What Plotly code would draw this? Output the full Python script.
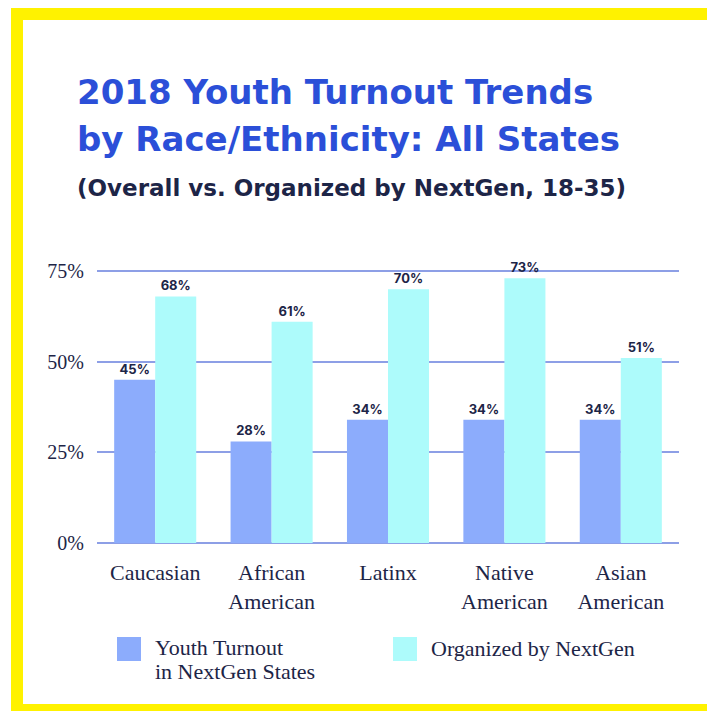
import plotly.graph_objects as go

categories = ["Caucasian", "African<br>American", "Latinx", "Native<br>American", "Asian<br>American"]
youth_turnout = [45, 28, 34, 34, 34]
organized = [68, 61, 70, 73, 51]
ytick_vals = [0, 25, 50, 75]
ytick_text = ["0%", "25%", "50%", "75%"]
series_names = ["Youth Turnout in NextGen States", "Organized by NextGen"]

W, H = 707, 711
L, R, T, B = 97, 28, 270, 168
PW, PH = W - L - R, H - T - B


def px(x):
    return (x - L) / PW


def py(y):
    return (H - B - y) / PH


BLUE = "#8cacfc"
CYAN = "#adfbfb"
NAVY = "#1d2547"
TITLE_BLUE = "#2b4fd8"
GRID = "#8d9fe6"
YELLOW = "#fff200"
SERIF = "Liberation Serif"
SANS = "Inter"
HEAD = "DejaVu Sans"

fig = go.Figure()
for name, vals, col in [(series_names[0], youth_turnout, BLUE), (series_names[1], organized, CYAN)]:
    fig.add_trace(go.Bar(
        x=categories, y=vals, name=name, marker=dict(color=col, line=dict(width=0)),
        texttemplate="%{y}%", textposition="outside", cliponaxis=False,
        constraintext="none",
        textfont=dict(family=SANS, size=13, color=NAVY, weight="bold"),
        showlegend=False, hoverinfo="skip",
    ))

shapes = [
    dict(type="rect", xref="paper", yref="paper", x0=px(11), x1=px(W + 5), y0=py(8), y1=py(20),
         fillcolor=YELLOW, line=dict(width=0), layer="below"),
    dict(type="rect", xref="paper", yref="paper", x0=px(11), x1=px(23), y0=py(8), y1=py(H + 5),
         fillcolor=YELLOW, line=dict(width=0), layer="below"),
    dict(type="rect", xref="paper", yref="paper", x0=px(11), x1=px(W + 5), y0=py(704), y1=py(H + 5),
         fillcolor=YELLOW, line=dict(width=0), layer="below"),
    # legend swatches
    dict(type="rect", xref="paper", yref="paper", x0=px(117), x1=px(141), y0=py(637), y1=py(661),
         fillcolor=BLUE, line=dict(width=0)),
    dict(type="rect", xref="paper", yref="paper", x0=px(393), x1=px(417), y0=py(637), y1=py(661),
         fillcolor=CYAN, line=dict(width=0)),
]

annotations = [
    dict(text="<b>2018 Youth Turnout Trends</b>", x=px(75), y=py(92), xref="paper", yref="paper",
         xanchor="left", yanchor="middle", showarrow=False,
         font=dict(family=HEAD, size=34, color=TITLE_BLUE)),
    dict(text="<b>by Race/Ethnicity: All States</b>", x=px(75), y=py(139), xref="paper", yref="paper",
         xanchor="left", yanchor="middle", showarrow=False,
         font=dict(family=HEAD, size=34, color=TITLE_BLUE)),
    dict(text="<b>(Overall vs. Organized by NextGen, 18-35)</b>", x=px(75), y=py(188), xref="paper", yref="paper",
         xanchor="left", yanchor="middle", showarrow=False,
         font=dict(family=HEAD, size=23, color=NAVY)),
    dict(text="Youth Turnout", x=px(153), y=py(647), xref="paper", yref="paper",
         xanchor="left", yanchor="middle", showarrow=False,
         font=dict(family=SERIF, size=22, color=NAVY)),
    dict(text="in NextGen States", x=px(153), y=py(671), xref="paper", yref="paper",
         xanchor="left", yanchor="middle", showarrow=False,
         font=dict(family=SERIF, size=22, color=NAVY)),
    dict(text="Organized by NextGen", x=px(429), y=py(648), xref="paper", yref="paper",
         xanchor="left", yanchor="middle", showarrow=False,
         font=dict(family=SERIF, size=22, color=NAVY)),
]

fig.update_layout(
    width=W, height=H,
    margin=dict(l=L, r=R, t=T, b=B),
    paper_bgcolor="white", plot_bgcolor="white",
    barmode="group", bargap=0.295, bargroupgap=0,
    showlegend=False,
    shapes=shapes, annotations=annotations,
    xaxis=dict(showgrid=False, showline=False, ticks="", ticklabelstandoff=14,
               tickfont=dict(family=SERIF, size=22, color=NAVY), fixedrange=True),
    yaxis=dict(range=[0, 75.3], tickvals=ytick_vals, ticktext=ytick_text,
               showgrid=True, gridcolor=GRID, gridwidth=1.5,
               zeroline=True, zerolinecolor=GRID, zerolinewidth=1.5,
               showline=False, ticks="", ticklabelstandoff=12,
               tickfont=dict(family=SERIF, size=20, color=NAVY), fixedrange=True),
)

fig.write_html("out.html", config={"displayModeBar": False},
               post_script="document.body.style.margin='0px'; document.body.style.overflow='hidden';")
